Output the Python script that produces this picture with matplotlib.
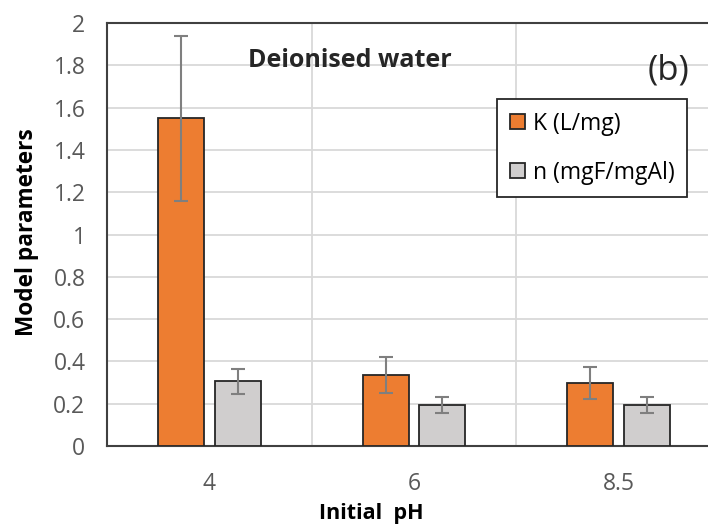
import numpy as np
import matplotlib
matplotlib.use("Agg")
import matplotlib.pyplot as plt
from matplotlib.ticker import FixedLocator

plt.rcParams['font.family'] = ['Open Sans', 'DejaVu Sans']

# data
ph_labels = ['4', '6', '8.5']
k_values = [1.55, 0.336, 0.298]
k_errors = [0.39, 0.085, 0.075]
n_values = [0.305, 0.195, 0.195]
n_errors = [0.06, 0.037, 0.037]

orange = '#ED7D31'
grey = '#D0CECE'
edge = '#262626'

fig = plt.figure(figsize=(7.08, 5.24), dpi=100)
ax = fig.add_axes([107 / 708, (524 - 446) / 524, 614 / 708, 423 / 524])

x = np.arange(len(ph_labels))
w = 0.225
off = 0.139
err_kw = dict(ecolor='#7f7f7f', elinewidth=1.5, capsize=5, capthick=1.5)

ax.bar(x - off, k_values, w, yerr=k_errors, color=orange, edgecolor=edge,
       linewidth=1.3, label='K (L/mg)', error_kw=err_kw, zorder=3)
ax.bar(x + off, n_values, w, yerr=n_errors, color=grey, edgecolor=edge,
       linewidth=1.3, label='n (mgF/mgAl)', error_kw=err_kw, zorder=3)

ax.set_xlim(-0.5, 2.5)
ax.set_ylim(0, 2)
ax.set_yticks(np.arange(0, 2.01, 0.2))
ax.set_yticklabels(['0', '0.2', '0.4', '0.6', '0.8', '1', '1.2', '1.4', '1.6', '1.8', '2'])
ax.set_xticks(x)
ax.set_xticklabels(ph_labels)
ax.xaxis.set_minor_locator(FixedLocator([0.5, 1.5]))

ax.grid(axis='y', which='major', color='#d9d9d9', linewidth=1.3, zorder=0)
ax.grid(axis='x', which='minor', color='#d9d9d9', linewidth=1.3, zorder=0)
ax.tick_params(which='both', length=0)
ax.tick_params(axis='y', labelsize=16.5, labelcolor='#595959', pad=15.5)
ax.tick_params(axis='x', labelsize=16.5, labelcolor='#595959', pad=18.5)

for s in ['left', 'top', 'bottom']:
    ax.spines[s].set_color('#404040')
    ax.spines[s].set_linewidth(1.5)
ax.spines['right'].set_visible(False)

ax.set_ylabel('Model parameters', fontsize=16.3, fontweight='bold')
ax.yaxis.set_label_coords(-68 / 614, (446 - 232) / 423)
ax.set_xlabel('Initial  pH', fontsize=15.5, fontweight='bold')
ax.xaxis.set_label_coords((371 - 107) / 614, -0.135)

ax.text(0.230, 0.912, 'Deionised water', transform=ax.transAxes,
        fontsize=18, fontweight='bold', color='#262626', va='center')
ax.text(0.881, 0.888, '(b)', transform=ax.transAxes,
        fontsize=25, color='#262626', va='center')

leg = ax.legend(loc='upper left', bbox_to_anchor=((497 - 107) / 614, (446 - 99) / 423),
                fontsize=16.5, frameon=True, fancybox=False, edgecolor='#262626',
                handlelength=0.66, handleheight=0.66, handletextpad=0.35,
                labelspacing=1.1, borderpad=0.55, borderaxespad=0, framealpha=1)
leg.get_frame().set_linewidth(1.3)

fig.savefig('out.png', dpi=100)
